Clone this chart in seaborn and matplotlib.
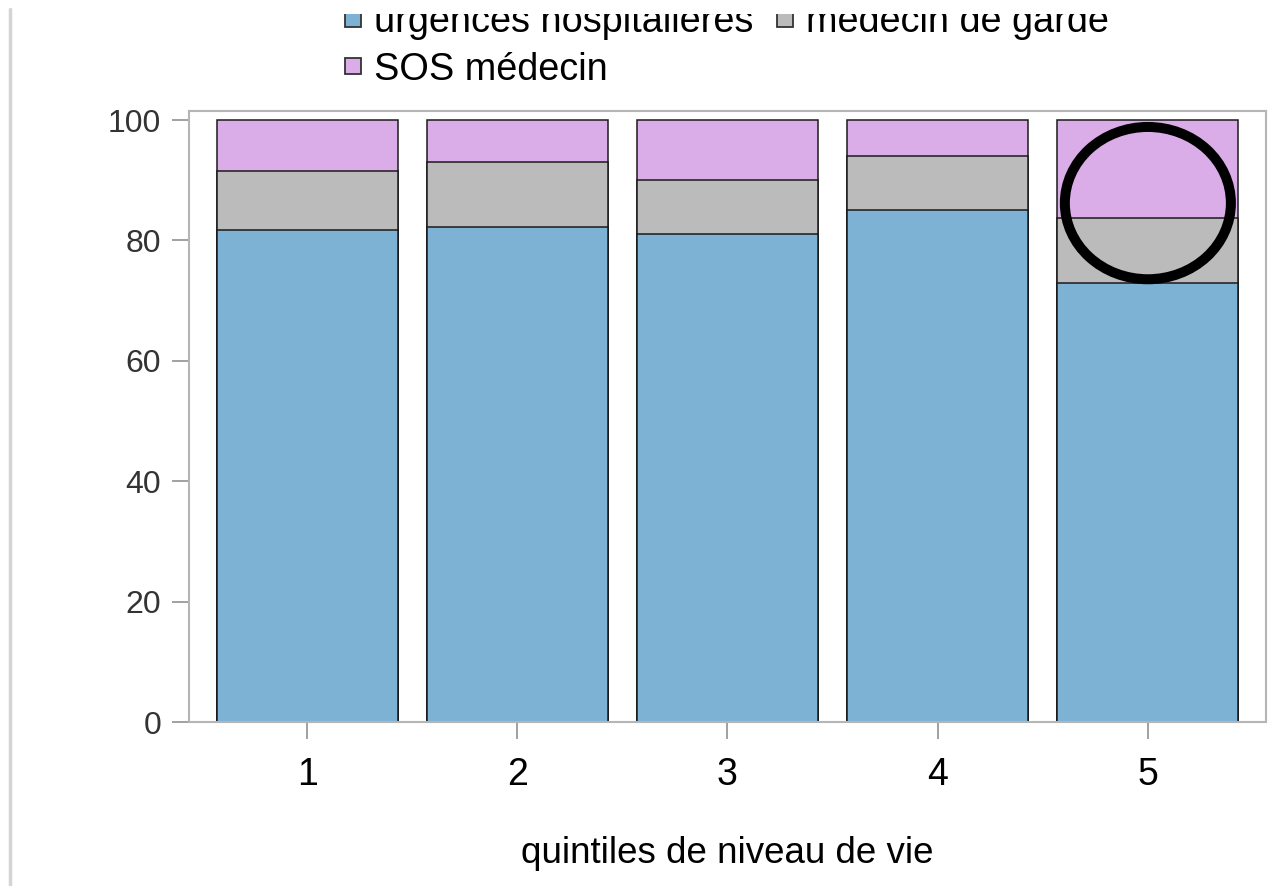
import matplotlib
matplotlib.use("Agg")
import matplotlib.pyplot as plt
from matplotlib.lines import Line2D
from matplotlib.patches import Ellipse, Rectangle
import seaborn as sns
import pandas as pd
import numpy as np

quintiles = ["1", "2", "3", "4", "5"]
urgences = [81.7, 82.3, 81.0, 85.0, 73.0]
medecin_garde = [9.9, 10.7, 9.0, 9.0, 10.8]
sos_medecin = [8.4, 7.0, 10.0, 6.0, 16.2]
series_names = ["urgences hospitalières", "médecin de garde", "SOS médecin"]
xlabel = "quintiles de niveau de vie"

colors = ["#7EB2D5", "#BBBBBB", "#DBADE8"]

sns.set_theme(style="white")
plt.rcParams["font.family"] = ["Liberation Sans", "DejaVu Sans"]

df = pd.DataFrame({
    "quintile": quintiles,
    "urg": urgences,
    "garde": medecin_garde,
    "sos": sos_medecin,
})
df["c1"] = df["urg"]
df["c2"] = df["urg"] + df["garde"]
df["c3"] = df["c2"] + df["sos"]

fig = plt.figure(figsize=(12.7, 8.86), dpi=100)
ax = fig.add_axes([189 / 1270, 1 - 722 / 886, (1266 - 189) / 1270, (722 - 110.7) / 886])

bw = 0.862
for col, color in zip(["c3", "c2", "c1"], colors[::-1]):
    sns.barplot(data=df, x="quintile", y=col, color=color, width=bw,
                edgecolor="#1a1a1a", linewidth=1.1, saturation=1, ax=ax,
                order=quintiles)

ax.set_xlim(-0.562, 4.562)
ax.set_ylim(0, 101.55)
ax.set_yticks([0, 20, 40, 60, 80, 100])
ax.set_ylabel("")
ax.set_xlabel(xlabel, fontsize=26.5, color="black", labelpad=31)

for s in ax.spines.values():
    s.set_color("#b5b5b5")
    s.set_linewidth(1.5)
    s.set_visible(True)

ax.tick_params(axis="y", length=12, width=1.3, color="#9a9a9a", labelsize=23,
               labelcolor="#333333", pad=8, left=True)
ax.tick_params(axis="x", length=12, width=1.3, color="#9a9a9a", labelsize=27,
               labelcolor="black", pad=13, bottom=True)

# annotation circle around last bar top
ell = Ellipse((4.0, 86.2), width=0.79, height=25.3, fill=False,
              edgecolor="black", linewidth=7.2, zorder=10)
ax.add_patch(ell)

# legend
handles = [Line2D([0], [0], marker="s", linestyle="none", markersize=11.3,
                  markerfacecolor=c, markeredgecolor="#333333", markeredgewidth=1.3)
           for c in colors]
order = [0, 2, 1]
leg = fig.legend([handles[i] for i in order], [series_names[i] for i in order],
                 loc="upper left", bbox_to_anchor=(344 / 1270, 1 - 4 / 886),
                 ncol=2, frameon=False, fontsize=27.3, handlelength=0.45,
                 handletextpad=0.34, columnspacing=0.6, labelspacing=0.31,
                 borderpad=0, borderaxespad=0)
for t in leg.get_texts():
    t.set_color("black")

# top strip of the original image is blank (legend first row is cut there)
fig.add_artist(Rectangle((20 / 1270, 1 - 14 / 886), 1 - 20 / 1270, 14 / 886,
                         transform=fig.transFigure, facecolor="white",
                         edgecolor="none", zorder=20))

# thin vertical grey line at left edge
fig.add_artist(Line2D([10 / 1270, 10 / 1270], [0, 1 - 9 / 886],
                      transform=fig.transFigure, color="#d4d4d4", linewidth=2.5))

fig.savefig("out.png", dpi=100)
